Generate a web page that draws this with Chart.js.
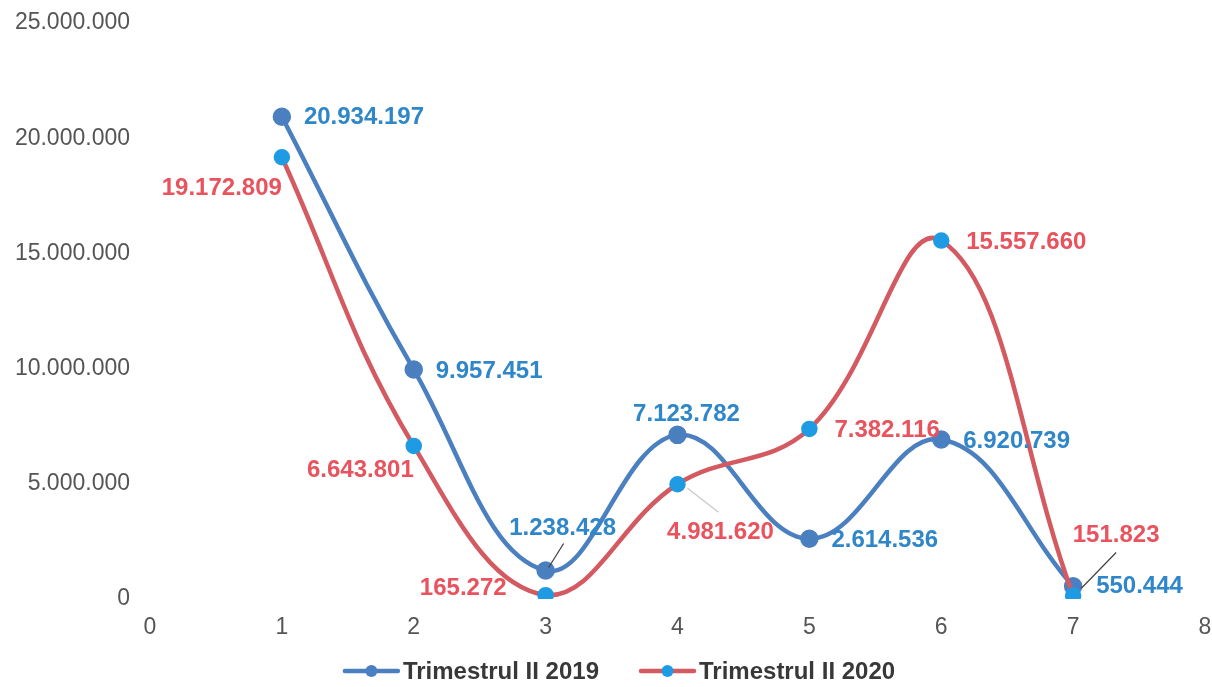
<!DOCTYPE html>
<html>
<head>
<meta charset="utf-8">
<script src="https://cdn.jsdelivr.net/npm/chart.js@4.4.1/dist/chart.umd.min.js"></script>
<style>
  html, body { margin: 0; padding: 0; background: #fff; overflow: hidden; }
  #wrap { width: 1212px; height: 687px; position: relative; }
</style>
</head>
<body>
<div id="wrap"><canvas id="chart"></canvas></div>
<script>
// data
const quarters = [1, 2, 3, 4, 5, 6, 7];
const values2019 = [20934197, 9957451, 1238428, 7123782, 2614536, 6920739, 550444];
const values2020 = [19172809, 6643801, 165272, 4981620, 7382116, 15557660, 151823];
const seriesNames = ['Trimestrul II 2019', 'Trimestrul II 2020'];
const xRange = [0, 8];
const yRange = [0, 25000000];
const yStep = 5000000;

// label placement per point: [dx, dy, align, leader]
const labelPlace2019 = [
    [22, 0, 'left'], [22, 1, 'left'], [17, -43, 'center', [3, -3, 18, -27, '#404040']],
    [9, -21, 'center'], [22, 1, 'left'], [22, 1, 'left'], [23, -1, 'left']
];
const labelPlace2020 = [
    [0, 30, 'right'], [0, 23, 'right'], [-39, -8, 'right'],
    [43, 47, 'center', [10, 4, 41, 28, '#c8c8c8']], [25, 0, 'left'], [25, 1, 'left'],
    [43, -61, 'center', [8, -7, 43, -43, '#404040']]
];

const blueLine = '#4a7fc0';
const redLine = '#d45a62';
const blueText = '#2f86c9';
const redText = '#e8535e';
const markerBlue = '#1e9be3';

function fmt(v) {
    return String(v).replace(/\B(?=(\d{3})+(?!\d))/g, '.');
}

const pointLabels = {
    id: 'pointLabels',
    afterDatasetsDraw(chart) {
        const ctx = chart.ctx;
        const places = [labelPlace2019, labelPlace2020];
        const colors = [blueText, redText];
        chart.data.datasets.forEach((ds, di) => {
            const meta = chart.getDatasetMeta(di);
            meta.data.forEach((pt, i) => {
                const p = places[di][i];
                if (p[3]) {
                    const l = p[3];
                    ctx.save();
                    ctx.strokeStyle = l[4];
                    ctx.lineWidth = 1.2;
                    ctx.beginPath();
                    ctx.moveTo(pt.x + l[0], pt.y + l[1]);
                    ctx.lineTo(pt.x + l[2], pt.y + l[3]);
                    ctx.stroke();
                    ctx.restore();
                }
                ctx.save();
                ctx.font = 'bold 24px "Liberation Sans", Arial, sans-serif';
                ctx.fillStyle = colors[di];
                ctx.textAlign = p[2];
                ctx.textBaseline = 'middle';
                ctx.fillText(fmt(ds.data[i].y), pt.x + p[0], pt.y + p[1] + 1);
                ctx.restore();
            });
        });
    }
};

const customLegend = {
    id: 'customLegend',
    afterDraw(chart) {
        const ctx = chart.ctx;
        const items = [
            { text: seriesNames[0], line: blueLine, dot: blueLine },
            { text: seriesNames[1], line: redLine, dot: markerBlue }
        ];
        ctx.save();
        ctx.font = 'bold 24px "Liberation Sans", Arial, sans-serif';
        const lineW = 53, gapText = 5, gapItem = 42;
        let total = 0;
        items.forEach((it, i) => {
            it.w = ctx.measureText(it.text).width;
            total += lineW + gapText + it.w + (i ? gapItem : 0);
        });
        let x = 620 - total / 2;
        const y = 671;
        items.forEach(it => {
            ctx.strokeStyle = it.line;
            ctx.lineWidth = 4.5;
            ctx.lineCap = 'round';
            ctx.beginPath();
            ctx.moveTo(x, y);
            ctx.lineTo(x + lineW, y);
            ctx.stroke();
            ctx.fillStyle = it.dot;
            ctx.beginPath();
            ctx.arc(x + lineW / 2, y, 6, 0, Math.PI * 2);
            ctx.fill();
            ctx.fillStyle = '#383838';
            ctx.textAlign = 'left';
            ctx.textBaseline = 'middle';
            ctx.fillText(it.text, x + lineW + gapText, y + 1);
            x += lineW + gapText + it.w + gapItem;
        });
        ctx.restore();
    }
};

new Chart(document.getElementById('chart'), {
    type: 'line',
    data: {
        datasets: [{
            label: seriesNames[0],
            data: quarters.map((q, i) => ({ x: q, y: values2019[i] })),
            borderColor: blueLine,
            backgroundColor: blueLine,
            pointBackgroundColor: blueLine,
            pointBorderColor: blueLine,
            borderWidth: 4.5,
            pointRadius: 7,
            tension: 0.4,
            fill: false,
            order: 2
        }, {
            label: seriesNames[1],
            data: quarters.map((q, i) => ({ x: q, y: values2020[i] })),
            borderColor: redLine,
            backgroundColor: markerBlue,
            pointBackgroundColor: markerBlue,
            pointBorderColor: markerBlue,
            borderWidth: 4.5,
            pointRadius: 6,
            tension: 0.4,
            fill: false,
            order: 1
        }]
    },
    options: {
        responsive: true,
        maintainAspectRatio: false,
        animation: false,
        layout: { autoPadding: false, padding: { top: 23, right: 7, bottom: 0, left: 0 } },
        plugins: {
            legend: { display: false },
            tooltip: { enabled: false }
        },
        scales: {
            x: {
                type: 'linear',
                min: xRange[0],
                max: xRange[1],
                grid: { display: false, drawTicks: false },
                border: { display: false },
                ticks: {
                    stepSize: 1,
                    padding: 15,
                    color: '#555555',
                    font: { family: '"Liberation Sans", Arial, sans-serif', size: 23 }
                },
                afterFit(scale) {
                    scale.height = 88;
                    scale.paddingLeft = 0;
                    scale.paddingRight = 0;
                }
            },
            y: {
                min: yRange[0],
                max: yRange[1],
                grid: { display: false, drawTicks: false },
                border: { display: false },
                ticks: {
                    stepSize: yStep,
                    padding: 20,
                    color: '#555555',
                    font: { family: '"Liberation Sans", Arial, sans-serif', size: 23 },
                    callback: v => fmt(v)
                },
                afterFit(scale) {
                    scale.width = 150;
                    scale.paddingTop = 0;
                    scale.paddingBottom = 0;
                }
            }
        }
    },
    plugins: [pointLabels, customLegend]
});
</script>
</body>
</html>
